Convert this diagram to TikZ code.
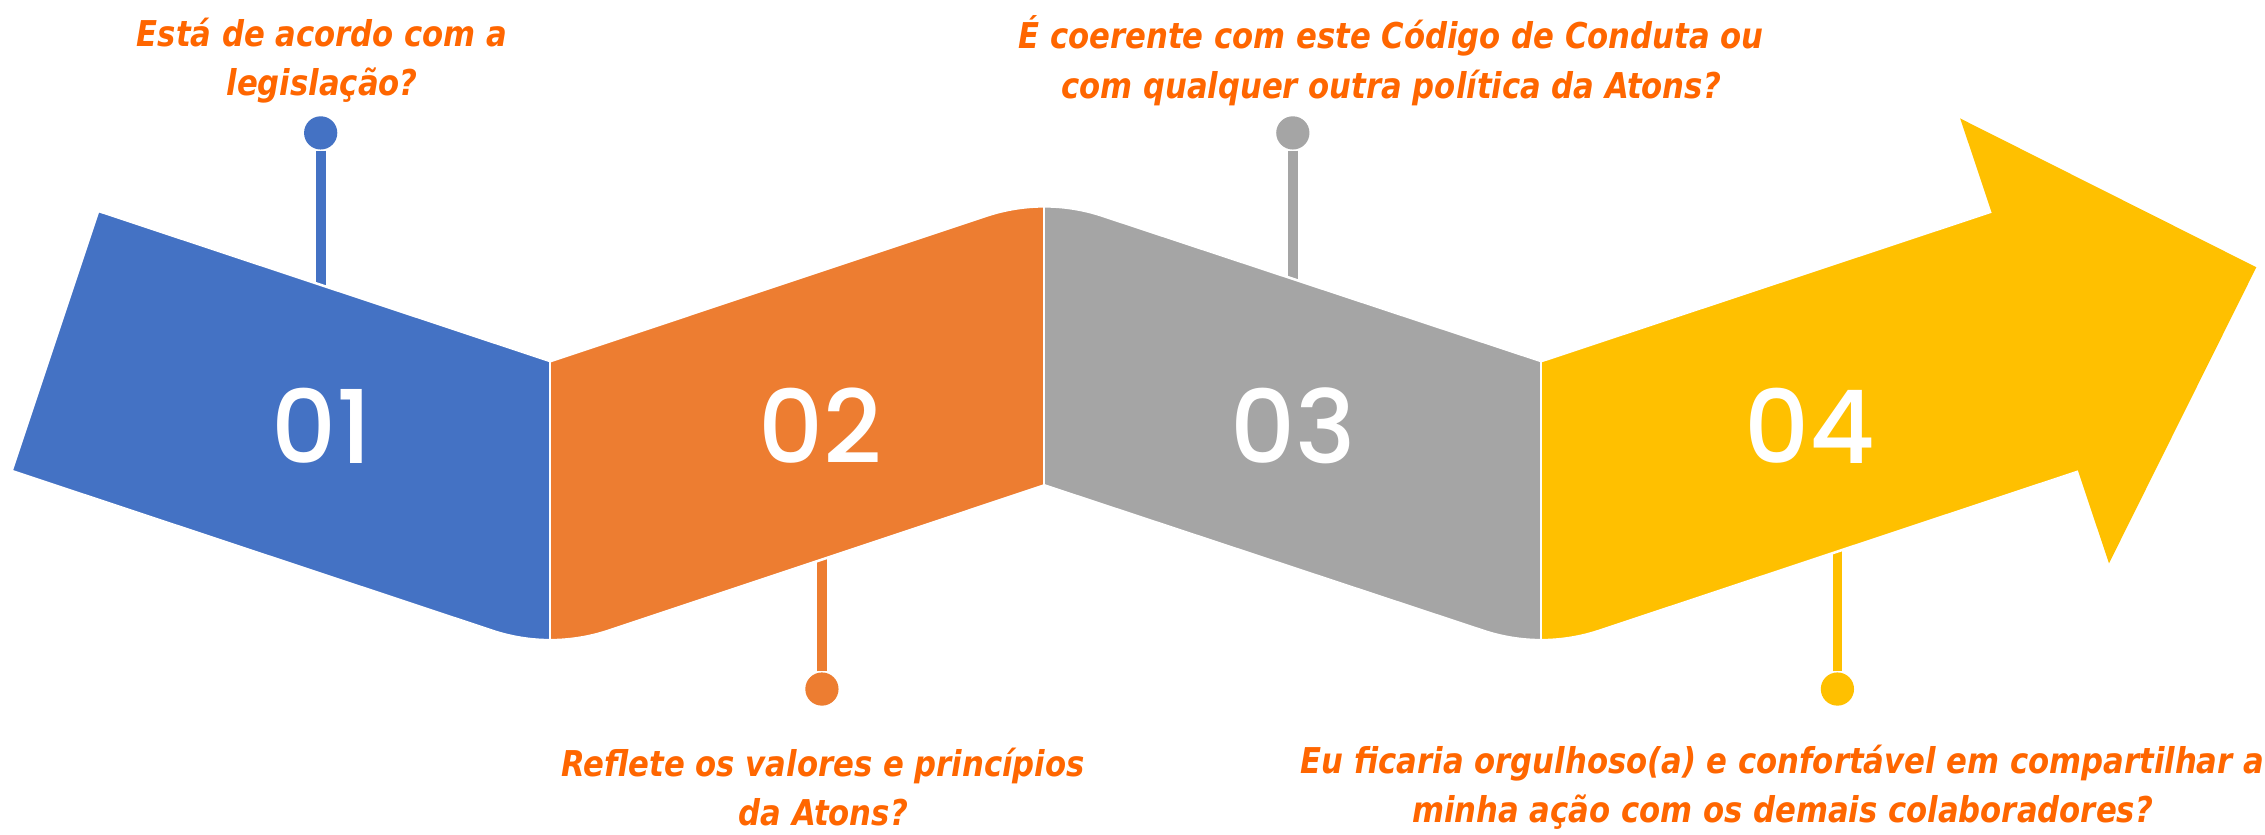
\documentclass[tikz,border=0pt]{standalone}
\usepackage{fontspec}
\newfontfamily\qfont[FakeStretch=0.96]{DejaVu Sans Condensed}
\newfontfamily\numfont{Poppins Medium}
\usepackage{tikz}

\definecolor{stepblue}{HTML}{4472C4}
\definecolor{steporange}{HTML}{ED7D31}
\definecolor{stepgray}{HTML}{A5A5A5}
\definecolor{stepyellow}{HTML}{FFC000}
\definecolor{asktext}{HTML}{FF6600}

\tikzset{
    question/.style={text=asktext, align=center, inner sep=0pt,
        font=\qfont\bfseries\itshape\fontsize{7}{9.7}\selectfont},
    stepnum/.style={text=white, inner sep=0pt,
        font=\numfont\fontsize{20}{24}\selectfont},
    pindot/.style={circle, inner sep=0pt, minimum size=0.23cm},
    pinstem/.style={line width=1.9pt}
}

\begin{document}
\begin{tikzpicture}[x=0.01cm, y=-0.01cm]
    \useasboundingbox (0,0) rectangle (1568,577.4);
    \fill[white] (0,0) rectangle (1568,577.4);
    % zigzag band, one outline cut into four steps
    \def\bandpath{(68,146) -- (381,250) -- (683,149.3) .. controls (708.9,140.7) and (737.1,140.7) .. (763,149.3)
        -- (1067,250) -- (1380,146) -- (1440,326) -- (1107,436.7) .. controls (1081.1,445.3) and (1052.9,445.3) .. (1027,436.7)
        -- (723,336) -- (421,436.7) .. controls (395.1,445.3) and (366.9,445.3) .. (341,436.7) -- (8,326) -- cycle}
    % pin stems (under the band)
    \coordinate (e1) at (222,215);
    \coordinate (e2) at (569,370);
    \coordinate (e3) at (895,215);
    \coordinate (e4) at (1272,365);
    \node[pindot, fill=stepblue]   (p1) at (222,92)  {};
    \node[pindot, fill=steporange] (p2) at (569,477) {};
    \node[pindot, fill=stepgray]   (p3) at (895,92)  {};
    \node[pindot, fill=stepyellow] (p4) at (1272,477) {};
    \draw[pinstem, stepblue]   (p1) -- (e1);
    \draw[pinstem, steporange] (p2) -- (e2);
    \draw[pinstem, stepgray]   (p3) -- (e3);
    \draw[pinstem, stepyellow] (p4) -- (e4);
    % steps
    \foreach \xa/\xb/\col in {0/381/stepblue, 381/723/steporange, 723/1067/stepgray, 1067/1600/stepyellow} {
        \begin{scope}
            \clip (\xa,0) rectangle (\xb,600);
            \fill[\col] \bandpath;
        \end{scope}
    }
    \draw[white, line width=0.5pt] \bandpath;
    % seams
    \draw[white, line width=0.4pt] (381,250) -- (381,445);
    \draw[white, line width=0.4pt] (723,143) -- (723,336);
    \draw[white, line width=0.4pt] (1067,250) -- (1067,445);
    % arrow head
    \fill[stepyellow] (1357,82) -- (1562,185) -- (1460,390) -- cycle;
    % numbers
    \node[stepnum] (n1) at (223,295) {01};
    \node[stepnum] (n2) at (568,295) {02};
    \node[stepnum] (n3) at (895,295) {03};
    \node[stepnum] (n4) at (1253,295) {04};
    % questions
    \node[question] (q1) at (223,42) {Está de acordo com a\\legislação?};
    \node[question] (q3) at (963,42) {É coerente com este Código de Conduta ou\\com qualquer outra política da Atons?};
    \node[question] (q2) at (570,545) {Reflete os valores e princípios\\da Atons?};
    \node[question] (q4) at (1234,545) {Eu ficaria orgulhoso(a) e confortável em compartilhar a\\minha ação com os demais colaboradores?};
\end{tikzpicture}
\end{document}
